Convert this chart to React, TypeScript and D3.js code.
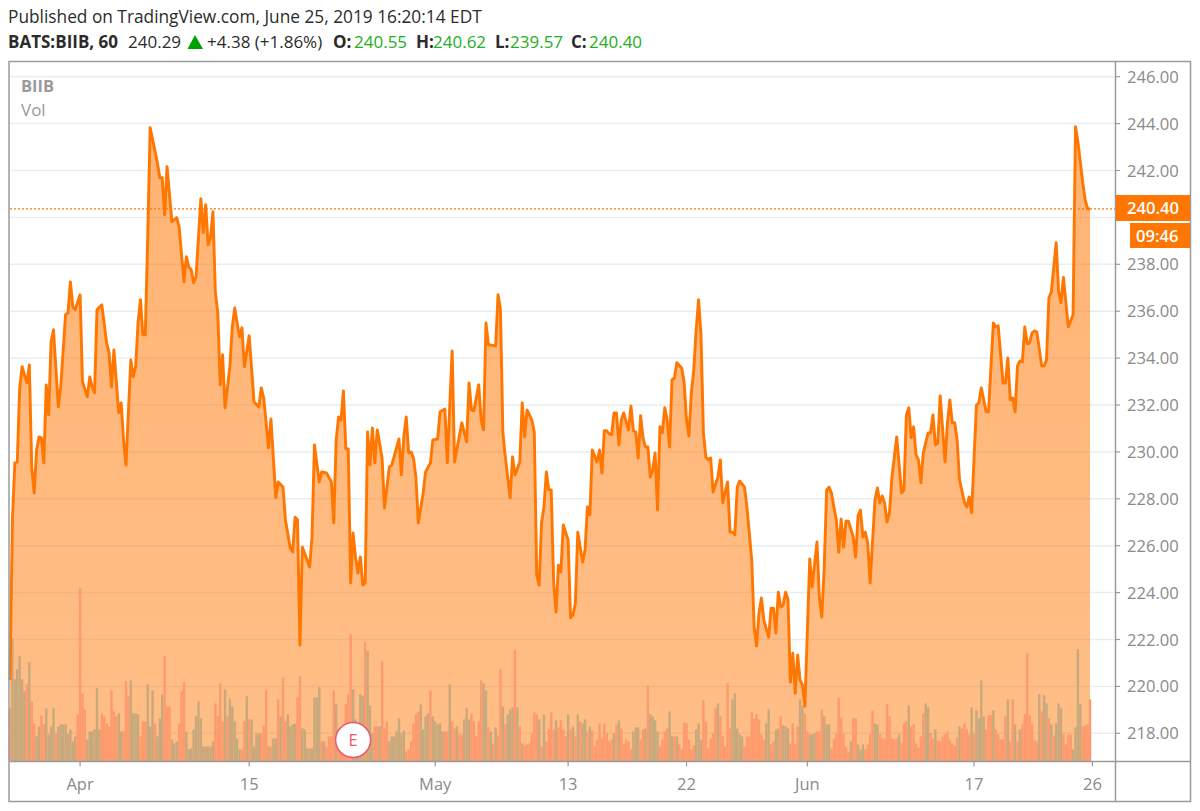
import React from "react";
import * as d3 from "d3";

const barIndex = [0,1,2,3,4,5,7,8,9,10,11,12,13,14,15,16,17,18,20,21,23,24,25,26,27,29,30,32,33,34,35,36,38,40,41,42,43,45,46,47,48,50,51,52,53,54,55,56,57,58,61,62,63,64,65,67,69,70,72,73,74,75,76,77,79,80,81,82,83,84,85,86,87,88,89,91,92,93,94,95,96,97,99,101,103,104,105,107,108,110,111,113,114,116,117,118,119,120,121,124,125,126,128,129,131,133,134,135,136,137,138,139,140,141,142,143,144,145,146,147,148,149,150,151,152,154,155,157,158,160,161,162,163,164,165,166,167,168,169,171,172,174,175,177,178,180,181,183,184,187,189,190,191,192,194,195,196,197,198,201,202,203,204,205,207,208,209,211,212,213,214,216,217,218,219,220,221,222,223,224,225,226,227,228,229,231,232,233,234,235,237,238,239,240,241,243,244,245,246,247,248,249,250,251,252,253,254,256,257,258,259,260,261,262,263,264,265,266,267,268,269,270,271,272,273,274,275,276,278,279,280,281,282,283,284,285,286,287,288,289,290,291,293,294,295,297,298,299,300,301,302,304,305,306,307,308,309,310,311,312,314,315,316,317,318,319,320,321,322,323,324,325,326,327,328,329,331,332,334,335,336,337,338,339,340,341,342,343,344,345,346,347,349,350,351,352,353,354,355,356,358,359,360,361,362,363,364,365,367,369,370,371,372,373,374,375,376,377,378,380,381,382,383,384,385,387,388,389,390,391,392,393,395,396,397,398,400,401,402,404,405,407,408,409,411,412,413,414,415,416,417,418,419,420,421,422,423,424,425,427,428,429,430,431,433,434,435,436,438,440,441,442,444,445,446,447];

const closePrice = [220.27,227.1,229.53,229.57,232.69,233.63,232.94,233.71,229.36,228.25,230.08,230.64,230.6,229.53,232.86,231.58,234.69,235.21,231.92,232.77,235.85,235.93,237.25,236.19,236.06,236.7,232.99,232.35,233.2,232.77,232.52,236.06,236.27,234.65,234.22,232.77,234.35,231.66,232.09,230.51,229.44,233.92,233.2,233.63,235.5,236.49,234.99,234.99,239.17,243.83,242.33,241.69,241.69,240.11,242.16,239.82,239.99,239.6,237.25,238.32,237.89,237.77,237.21,237.47,240.8,239.35,240.54,238.83,239.17,240.24,236.79,235.93,232.86,234.14,231.88,233.63,235.33,236.14,235.5,234.91,235.29,233.63,234.95,232.13,231.92,232.73,232.3,230.17,231.41,228.04,228.72,228.5,227.1,225.9,225.73,227.22,227.1,221.76,225.94,225.09,226.37,230.3,228.72,229.15,229.1,228.72,226.97,230.51,231.49,231.36,232.6,230.13,230.13,224.41,226.54,225.52,224.83,225.52,224.32,224.41,230.85,229.44,231.02,229.53,230.94,229.74,227.61,229.36,229.44,230.17,230.55,229.02,230.64,231.49,229.96,230,229.74,228.93,226.97,228.25,229.15,229.53,230.51,230.55,231.71,231.83,229.53,234.31,229.57,231.24,230.43,232.94,231.79,231.75,232.86,231.36,230.94,235.5,234.57,234.52,236.7,236.06,230.81,229.79,228.04,229.79,229.02,229.57,232.09,230.64,231.79,231.36,230.85,224.75,224.32,226.97,227.65,229.15,228.38,228.38,224.45,223.17,225.17,224.88,226.88,226.24,222.93,223.04,223.55,226.58,225.3,225.82,227.65,227.31,230.08,229.57,230.08,229.1,230.9,230.9,230.77,230.73,231.66,231.66,230.3,231.36,231.66,230.94,231.96,230.9,230.85,229.74,231.54,230.6,230.21,230.21,228.93,229.23,229.96,227.52,231.07,230.81,231.88,231.36,230.21,233.07,233.16,233.8,233.58,232.99,231.36,230.68,232.52,233.5,235.21,236.49,234.99,230.81,229.79,229.66,229.74,228.29,228.93,229.66,227.82,228.72,226.58,226.58,226.46,228.5,228.76,228.5,227.65,226.54,225.39,222.53,221.72,223.13,223.77,222.83,222.1,223.34,223.34,222.27,224.02,223.38,223.47,224.02,223.72,220.18,221.42,219.71,221.33,220.27,220.05,219.16,225.43,224.24,226.16,223.77,222.96,225.09,228.38,228.5,228.25,227.65,227.1,225.73,227.14,225.94,227.05,227.05,226.37,225.52,227.27,227.52,226.37,226.58,226.11,224.41,227.95,228.46,227.82,228.12,227.82,227.01,227.4,228.89,230.64,228.25,228.38,231.58,231.88,230.6,231.07,229.87,229.66,228.68,229.96,230.81,230.81,231.58,230.3,230.38,232.39,229.57,231.24,232.22,231.24,231.24,230.51,228.8,227.86,227.65,228.08,227.4,232,232.09,232.73,231.71,231.71,235.5,235.33,235.38,232.94,232.94,234.01,232.22,232.3,231.71,233.67,233.88,233.84,235.33,234.61,234.65,235.08,235.16,235.12,233.67,233.67,233.92,236.57,236.83,238.92,236.83,236.36,237.44,235.33,235.85,243.87,243.23,241.48,240.75,240.37,240.36];

// thousands of shares; positive = up bar, negative = down bar
const volumes = [
-53,123,82,92,105,82,70,-77,99,-60,-38,25,35,-46,-37,53,27,35,53,-28,
35,37,37,37,27,32,20,25,-47,-173,-68,-52,22,30,30,32,73,32,-48,-45,
-38,-35,-71,-50,-45,48,30,-30,-80,-65,81,48,48,47,-25,-40,-40,77,35,71,
-38,25,43,67,-105,-55,-55,22,18,20,-38,-70,-79,30,12,13,32,45,60,43,
15,15,15,15,20,-58,-45,-78,-40,72,-45,63,55,40,23,12,-12,-40,65,-42,
42,15,28,28,-28,-36,-71,15,-15,23,23,-62,45,-84,-40,47,35,37,38,-64,
-85,33,32,13,13,13,64,64,74,-20,20,-15,-25,-25,-71,57,-32,-15,-20,-57,
-67,-127,72,42,25,67,65,-119,110,56,28,-35,-35,35,-100,-33,-40,20,25,25,30,43,
28,31,-10,-12,-20,-38,-47,-50,57,32,45,48,-71,45,40,37,38,30,-30,-30,
77,-40,-33,35,-27,-27,42,53,42,-48,-40,-25,-40,-81,78,71,-34,30,-18,34,
-26,-92,55,-37,47,52,54,-111,54,-35,18,-16,-17,-18,-28,-49,-47,42,-15,47,
-20,-32,-49,-32,41,-34,-41,-32,-25,47,-32,35,-25,47,-40,38,42,-30,35,-31,
-15,-22,-38,-23,-38,-28,-20,-22,28,-37,41,-33,-18,-22,-20,-12,30,34,34,-22,
-32,33,-76,47,45,41,30,-15,-22,-30,-33,50,25,-25,25,-17,-12,-39,-38,-22,
-12,-16,32,38,22,-61,-40,-13,-23,-28,-53,58,-45,-25,-15,-78,-33,62,68,33,
27,25,-15,-25,-25,-49,-43,-47,-42,-27,-22,38,52,-17,-20,32,33,-45,36,35,
33,-18,-38,-18,-35,62,
56,-48,-30,27,27,28,-30,-30,-52,45,37,37,-13,-23,-28,-64,-44,-27,-15,-10,
20,-43,-43,17,12,17,-12,-17,-27,-51,38,37,-27,-23,-23,-57,-45,-23,-22,-23,
27,-18,-38,-40,56,-35,-37,-18,-14,-25,-48,58,54,-28,-23,32,-21,-20,-25,-27,
-30,-22,-18,-16,-24,35,-33,-38,-32,-27,54,-28,51,43,81,45,-32,-46,-46,51,
-32,-27,-22,-22,-45,62,-20,-62,37,-20,32,-37,-47,-108,-46,-38,-21,-20,67,-50,
66,58,-43,37,-26,38,58,53,-27,-17,-27,-27,12,34,112,57,-35,-36,-37,-62];

const priceTicks = d3.range(218, 247, 2);
const hiddenPriceLabel = 240; // covered by the last-price tag in the reference
const dateLabels = ["Apr", "15", "May", "13", "22", "Jun", "17", "26"];
const dateBars = [29, 99, 176, 231, 280, 330, 399, 448];
const lastPrice = 240.36;
const lastPriceLabel = "240.40";
const earningsBar = 142;

const SANS = "'Open Sans', sans-serif";
const ORANGE = "#FF7600";
const GRAY = "#8a8a8a";

const plot = { left: 10, right: 1115, top: 62, bottom: 761.5, frameRight: 1190.5, frameBottom: 801.5 };

export default function App() {
  const x = d3.scaleLinear().domain([0, 447]).range([10, 1090]);
  const y = d3.scaleLinear().domain([218, 246]).range([733.3, 76.7]);
  const vol = d3.scaleLinear().domain([0, 173]).range([plot.bottom, 588]);
  const pts = barIndex.map((b, i) => [b, closePrice[i]] as [number, number]);
  const line = d3.line<[number, number]>().x((d) => x(d[0])).y((d) => y(d[1]));
  const area = d3.area<[number, number]>().x((d) => x(d[0])).y0(plot.bottom).y1((d) => y(d[1]));
  const lastY = y(lastPrice);

  return (
    <svg width={1200} height={811} style={{ position: "fixed", left: 0, top: 0, display: "block", background: "#fff" }} fontFamily={SANS}>
      <defs>
        <linearGradient id="fill" gradientUnits="userSpaceOnUse" x1="0" x2="0" y1={y(244)} y2={plot.bottom}>
          <stop offset="0" stopColor="#FF7600" stopOpacity={0.55} />
          <stop offset="1" stopColor="#FF7600" stopOpacity={0.47} />
        </linearGradient>
      </defs>

      <text x={8} y={23} fontSize={17.3} fill="#2b2b2b">Published on TradingView.com, June 25, 2019 16:20:14 EDT</text>
      <g fontSize={17} fill="#2b2b2b">
        <text x={8} y={48} fontWeight={700}>BATS:BIIB, 60</text>
        <text x={128} y={48}>240.29</text>
        <path d="M187.5,49 L195,35 L203,49 Z" fill="#00A000" />
        <text x={207} y={48}>+4.38 (+1.86%)</text>
        <text x={333} y={48} fontWeight={700}>O:</text>
        <text x={354} y={48} fill="#22B022">240.55</text>
        <text x={416} y={48} fontWeight={700}>H:</text>
        <text x={433} y={48} fill="#22B022">240.62</text>
        <text x={495} y={48} fontWeight={700}>L:</text>
        <text x={510} y={48} fill="#22B022">239.57</text>
        <text x={571} y={48} fontWeight={700}>C:</text>
        <text x={589} y={48} fill="#22B022">240.40</text>
      </g>

      {priceTicks.map((t) => (
        <line key={t} x1={plot.left} x2={plot.right} y1={y(t)} y2={y(t)} stroke="#E6EEF5" strokeWidth={1.5} />
      ))}

      <path d={area(pts) ?? ""} fill="url(#fill)" />

      {volumes.map((v, i) => (
        <rect key={i} x={x(i) - 1.2} width={2.42} y={vol(Math.abs(v))} height={plot.bottom - vol(Math.abs(v))}
          fill={v > 0 ? "#C9A87C" : "#FD9A6E"} />
      ))}

      <line x1={plot.left} x2={plot.right} y1={lastY} y2={lastY} stroke={ORANGE} strokeWidth={1.3} strokeDasharray="2 2" />
      <path d={line(pts) ?? ""} fill="none" stroke={ORANGE} strokeWidth={2.9} strokeLinejoin="round" />

      <circle cx={x(earningsBar)} cy={740} r={17.5} fill="#fff" stroke="#F0566E" strokeWidth={1.5} />
      <text x={x(earningsBar)} y={746} textAnchor="middle" fontSize={16.5} fill="#F0566E">E</text>

      <text x={21} y={92} fontSize={16.5} fontWeight={700} fill="#9a9a9a">BIIB</text>
      <text x={21} y={116} fontSize={17} fill="#9a9a9a">Vol</text>

      <g fill="none" stroke="#9a9a9a" strokeWidth={1.5}>
        <rect x={plot.left - 1} y={plot.top - 0.5} width={plot.frameRight - plot.left + 1} height={plot.frameBottom - plot.top + 0.5} />
        <line x1={plot.right + 0.5} x2={plot.right + 0.5} y1={plot.top} y2={plot.frameBottom} />
        <line x1={plot.left} x2={plot.frameRight} y1={plot.bottom} y2={plot.bottom} />
      </g>

      {priceTicks.map((t) => (
        <g key={t}>
          <line x1={plot.right} x2={plot.right + 5} y1={y(t)} y2={y(t)} stroke="#9a9a9a" strokeWidth={1.2} />
          {t !== hiddenPriceLabel && (
            <text x={1127} y={y(t) + 6} fontSize={16.6} fill={GRAY}>{t.toFixed(2)}</text>
          )}
        </g>
      ))}

      {dateBars.map((b, i) => (
        <g key={b}>
          <line x1={x(b)} x2={x(b)} y1={plot.bottom} y2={plot.bottom + 5} stroke="#9a9a9a" strokeWidth={1.2} />
          <text x={x(b)} y={790} textAnchor="middle" fontSize={16.5} fill={GRAY}>{dateLabels[i]}</text>
        </g>
      ))}

      <rect x={plot.right + 1} y={195} width={74} height={26} fill={ORANGE} />
      <text x={1127} y={214} fontSize={16.6} fill="#fff" fontWeight={600}>{lastPriceLabel}</text>
      <rect x={1130} y={223} width={60} height={25} fill={ORANGE} />
      <text x={1136} y={241.5} fontSize={16.6} fill="#fff" fontWeight={600}>09:46</text>
    </svg>
  );
}
